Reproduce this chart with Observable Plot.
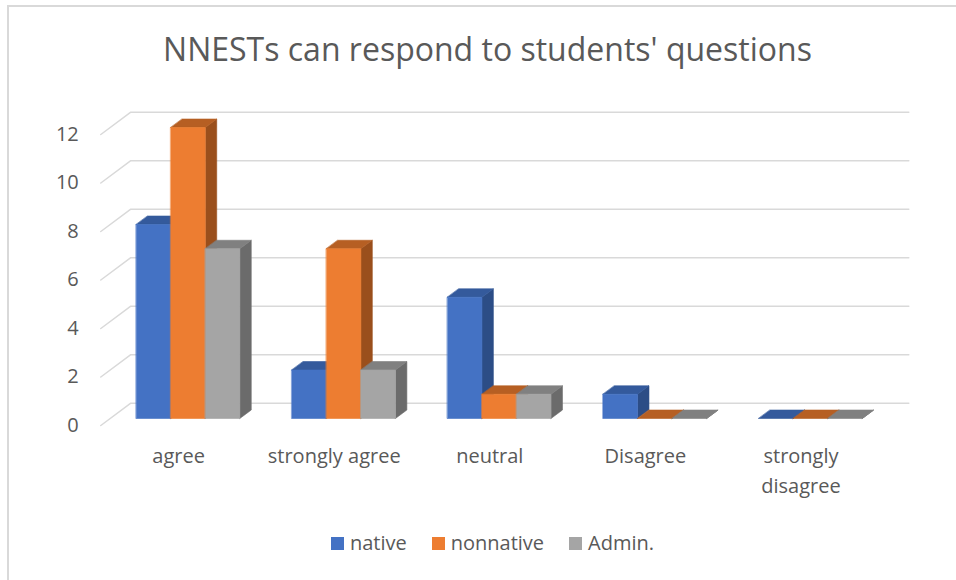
<!DOCTYPE html>
<html>
<head>
<meta charset="utf-8">
<script src="https://cdn.jsdelivr.net/npm/d3@7"></script>
<script src="https://cdn.jsdelivr.net/npm/@observablehq/plot@0.6"></script>
<style>
  body { margin: 0; background: #fff; font-family: "Open Sans", sans-serif; width: 956px; height: 580px; overflow: hidden; position: relative; }
  #frame { position: absolute; left: 7px; top: 5px; width: 1000px; height: 1000px; border-left: 2px solid #d9d9d9; border-top: 2px solid #d9d9d9; box-sizing: border-box; }
  #title { position: absolute; left: 0; top: 29px; width: 975px; text-align: center; font-size: 32px; line-height: 40px; color: #595959; white-space: nowrap; }
  #chart { position: absolute; left: 0; top: 90px; }
  #legend { position: absolute; left: 0; top: 530px; width: 985px; display: flex; justify-content: center; gap: 25px; font-size: 20px; line-height: 26px; color: #595959; }
  #legend .item { display: flex; align-items: center; gap: 6px; }
  #legend .sw { width: 13px; height: 13px; display: inline-block; }
</style>
</head>
<body>
<div id="frame"></div>
<div id="title">NNESTs can respond to students' questions</div>
<div id="chart"></div>
<div id="legend"></div>
<script>
// Survey responses per answer category
const categories = ["agree", "strongly agree", "neutral", "Disagree", "strongly disagree"];
const seriesNames = ["native", "nonnative", "Admin."];
const native = [8, 2, 5, 1, 0];
const nonnative = [12, 7, 1, 0, 0];
const admin = [7, 2, 1, 0, 0];
const yTicks = [0, 2, 4, 6, 8, 10, 12];

const seriesValues = [native, nonnative, admin];
const frontColors = ["#4472C4", "#ED7D31", "#A5A5A5"];
const topColors = ["#345A9C", "#B65F23", "#808080"];
const sideColors = ["#2C4D86", "#9A4F1C", "#6B6B6B"];

// Oblique 3-D projection: depth 0 = front edge of floor, depth 1 = back wall.
const DEPTH_X = 30 / 155.6;   // x-units per unit of depth
const DEPTH_Y = 22.3 / 24.25; // value-units per unit of depth
const proj = (x, v, d) => ({x: x + d * DEPTH_X, y: v + d * DEPTH_Y});

// Bar geometry inside each category band (in x-units / depth units)
const groupPad = 0.167, barW = 0.222;
const d0 = 0.314, d1 = 0.695;

// Faces of every column, listed in painting order
const faces = [];
categories.forEach((c, i) => {
  seriesValues.forEach((vals, j) => {
    const v = vals[i];
    const x1 = i + groupPad + j * barW, x2 = x1 + barW;
    const add = (kind, fill, pts) => pts.forEach(p => faces.push({id: `${i}-${j}-${kind}`, fill, ...proj(...p)}));
    add("side", sideColors[j], [[x2, 0, d0], [x2, 0, d1], [x2, v, d1], [x2, v, d0]]);
    add("top", topColors[j], [[x1, v, d0], [x2, v, d0], [x2, v, d1], [x1, v, d1]]);
    if (v > 0) add("front", frontColors[j], [[x1, 0, d0], [x2, 0, d0], [x2, v, d0], [x1, v, d0]]);
  });
});

// Gridlines: slanted side-wall segment, then along the back wall
const grid = yTicks.flatMap(v => [
  {v, ...proj(0, v, 0)},
  {v, ...proj(0, v, 1)},
  {v, ...proj(categories.length, v, 1)}
]);

const wrap = s => s.length > 15 ? s.replace(" ", "\n") : s;

const chart = Plot.plot({
  width: 956,
  height: 430,
  marginLeft: 100.3,
  marginRight: 77.7,
  marginTop: 44,
  marginBottom: 95,
  x: {domain: [0, categories.length], axis: null},
  y: {domain: [0, 12], ticks: yTicks, tickSize: 0, tickPadding: 22, label: null},
  color: {type: "identity"},
  style: {fontFamily: "Open Sans, sans-serif", fontSize: "20px", color: "#595959", background: "transparent", overflow: "visible"},
  marks: [
    Plot.line(grid, {x: "x", y: "y", z: "v", stroke: "#d9d9d9", strokeWidth: 1.5}),
    Plot.line(faces, {x: "x", y: "y", z: "id", fill: "fill", stroke: "fill", strokeWidth: 0.6, curve: "linear-closed"}),
    Plot.text(categories, {
      x: (d, i) => i + 0.5,
      y: () => 0,
      text: wrap,
      dy: 16,
      lineAnchor: "top",
      lineHeight: 1.5,
      fill: "#595959",
      fontSize: 20
    })
  ]
});
document.getElementById("chart").append(chart);

// Legend
const legend = document.getElementById("legend");
seriesNames.forEach((name, j) => {
  const item = document.createElement("span");
  item.className = "item";
  const sw = document.createElement("span");
  sw.className = "sw";
  sw.style.background = frontColors[j];
  const label = document.createElement("span");
  label.textContent = name;
  item.append(sw, label);
  legend.append(item);
});
</script>
</body>
</html>
